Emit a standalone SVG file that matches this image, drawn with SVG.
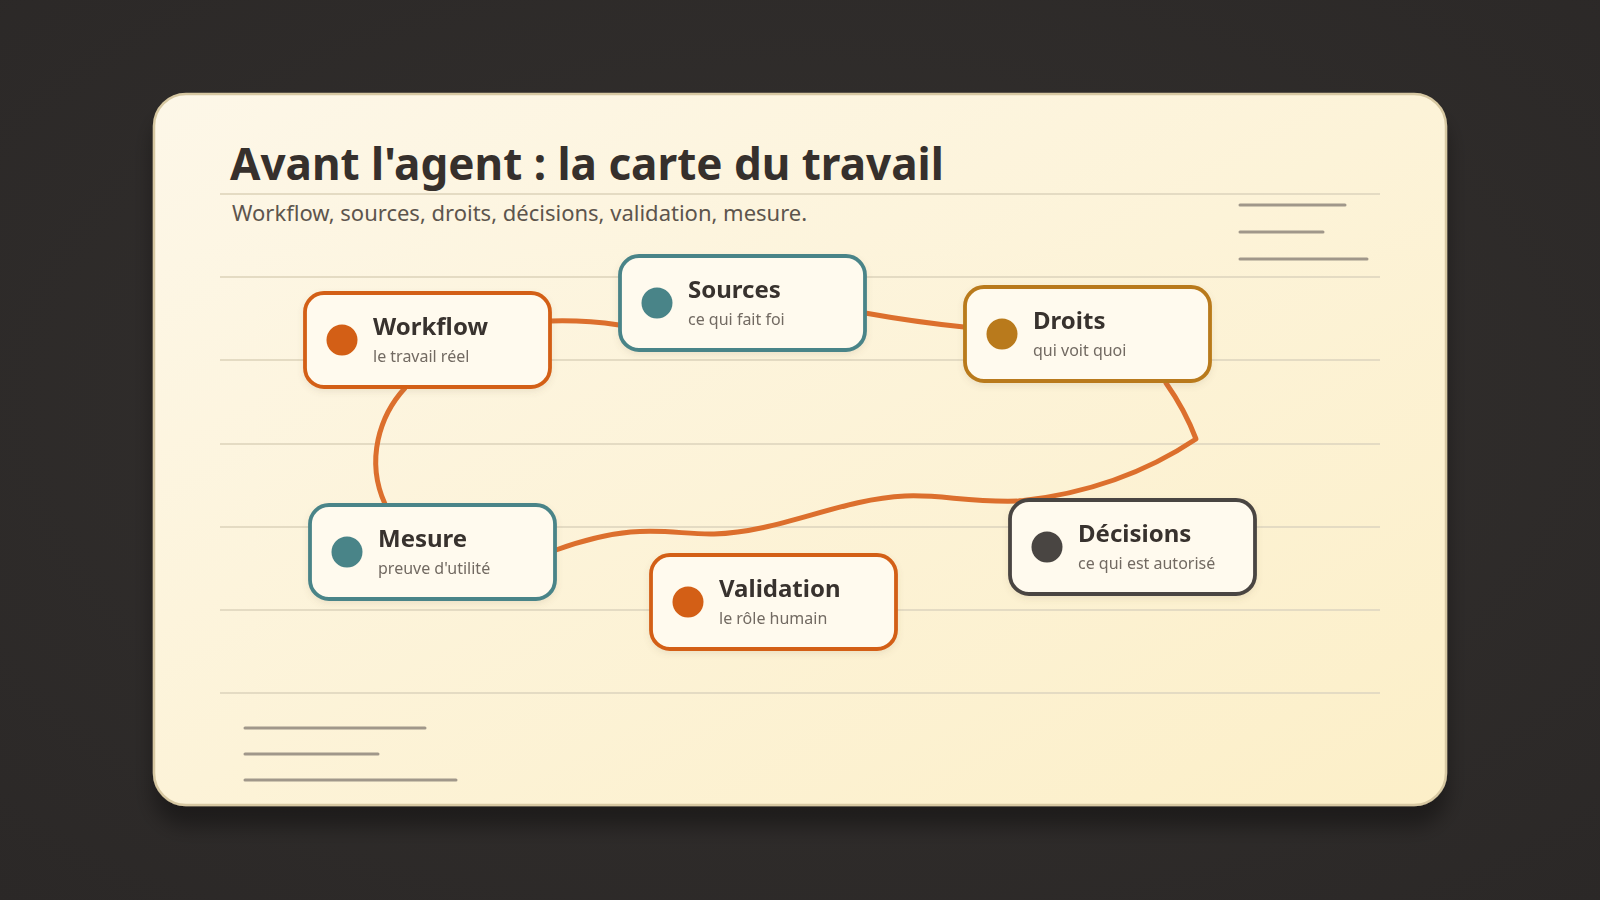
<svg xmlns="http://www.w3.org/2000/svg" width="1600" height="900" viewBox="0 0 1600 900">
  <defs>
    <radialGradient id="bg" cx="50%" cy="45%" r="75%">
      <stop offset="0" stop-color="#33302e"/>
      <stop offset="1" stop-color="#2b2827"/>
    </radialGradient>
    <linearGradient id="card" x1="0" y1="0" x2="1" y2="1">
      <stop offset="0" stop-color="#fdf7e8"/>
      <stop offset="1" stop-color="#fcefc8"/>
    </linearGradient>
    <filter id="cardShadow" x="-10%" y="-10%" width="120%" height="130%">
      <feDropShadow dx="0" dy="20" stdDeviation="10" flood-color="#000" flood-opacity="0.35"/>
    </filter>
    <filter id="nodeShadow" x="-10%" y="-10%" width="120%" height="130%">
      <feDropShadow dx="0" dy="3" stdDeviation="3" flood-color="#7a6a4a" flood-opacity="0.12"/>
    </filter>
  </defs>
  <style>
    .rule { stroke: #e4dbc3; stroke-width: 2; }
    .deco { stroke: #a0978a; stroke-width: 3; stroke-linecap: round; }
    .edge { fill: none; stroke: #dc6f2d; stroke-width: 5; stroke-linecap: round; stroke-linejoin: round; }
    .box { fill: #fffaee; stroke-width: 3.8; }
    .title { font-family: "Noto Sans", "Liberation Sans", sans-serif; font-weight: 700; font-size: 24px; fill: #38322e; }
    .sub { font-family: "Noto Sans", "Liberation Sans", sans-serif; font-size: 16px; fill: #726a62; }
  </style>
  <rect width="1600" height="900" fill="url(#bg)"/>
  <rect x="154" y="94" width="1292" height="711" rx="32" fill="url(#card)" stroke="#d7c8a2" stroke-width="2.5" filter="url(#cardShadow)"/>

  <text x="230" y="180" font-family="'Noto Sans', 'Liberation Sans', sans-serif" font-weight="700" font-size="44" fill="#36302c">Avant l'agent : la carte du travail</text>
  <text x="232" y="221" font-family="'Noto Sans', 'Liberation Sans', sans-serif" font-size="22" fill="#5d554d">Workflow, sources, droits, décisions, validation, mesure.</text>

  <g id="rules">
    <line class="rule" x1="220" y1="194" x2="1380" y2="194"/>
    <line class="rule" x1="220" y1="277" x2="1380" y2="277"/>
    <line class="rule" x1="220" y1="360" x2="1380" y2="360"/>
    <line class="rule" x1="220" y1="444" x2="1380" y2="444"/>
    <line class="rule" x1="220" y1="527" x2="1380" y2="527"/>
    <line class="rule" x1="220" y1="610" x2="1380" y2="610"/>
    <line class="rule" x1="220" y1="693" x2="1380" y2="693"/>
  </g>
  <g id="deco">
    <line class="deco" x1="1240" y1="205" x2="1345" y2="205"/>
    <line class="deco" x1="1240" y1="232" x2="1323" y2="232"/>
    <line class="deco" x1="1240" y1="259" x2="1367" y2="259"/>
    <line class="deco" x1="245" y1="728" x2="425" y2="728"/>
    <line class="deco" x1="245" y1="754" x2="378" y2="754"/>
    <line class="deco" x1="245" y1="780" x2="456" y2="780"/>
  </g>

  <g id="connectors">
    <path class="edge" d="M551,321 Q585,320 619,325"/>
    <path class="edge" d="M865,313 Q915,322 964,327"/>
    <path class="edge" d="M1166,383 Q1185,410 1196,439 Q1120,490 1020,501"/>
    <path class="edge" d="M1020,501 C970,503 940,494 905,496 C840,499 780,532 714,534 C670,535 640,520 556,550"/>
    <path class="edge" d="M405,388 C380,415 365,460 385,504"/>
  </g>

  <g id="node-workflow" transform="translate(305,293)" filter="url(#nodeShadow)">
    <rect class="box" width="245" height="94" rx="19" stroke="#d35f14"/>
    <circle cx="37" cy="47" r="15.5" fill="#d35f14"/>
    <text class="title" x="68" y="42">Workflow</text>
    <text class="sub" x="68" y="69">le travail réel</text>
  </g>
  <g id="node-sources" transform="translate(620,256)" filter="url(#nodeShadow)">
    <rect class="box" width="245" height="94" rx="19" stroke="#4a8488"/>
    <circle cx="37" cy="47" r="15.5" fill="#4a8488"/>
    <text class="title" x="68" y="42">Sources</text>
    <text class="sub" x="68" y="69">ce qui fait foi</text>
  </g>
  <g id="node-droits" transform="translate(965,287)" filter="url(#nodeShadow)">
    <rect class="box" width="245" height="94" rx="19" stroke="#b97a1a"/>
    <circle cx="37" cy="47" r="15.5" fill="#b97a1a"/>
    <text class="title" x="68" y="42">Droits</text>
    <text class="sub" x="68" y="69">qui voit quoi</text>
  </g>
  <g id="node-mesure" transform="translate(310,505)" filter="url(#nodeShadow)">
    <rect class="box" width="245" height="94" rx="19" stroke="#4a8488"/>
    <circle cx="37" cy="47" r="15.5" fill="#4a8488"/>
    <text class="title" x="68" y="42">Mesure</text>
    <text class="sub" x="68" y="69">preuve d'utilité</text>
  </g>
  <g id="node-validation" transform="translate(651,555)" filter="url(#nodeShadow)">
    <rect class="box" width="245" height="94" rx="19" stroke="#d35f14"/>
    <circle cx="37" cy="47" r="15.5" fill="#d35f14"/>
    <text class="title" x="68" y="42">Validation</text>
    <text class="sub" x="68" y="69">le rôle humain</text>
  </g>
  <g id="node-decisions" transform="translate(1010,500)" filter="url(#nodeShadow)">
    <rect class="box" width="245" height="94" rx="19" stroke="#4a4542"/>
    <circle cx="37" cy="47" r="15.5" fill="#4a4542"/>
    <text class="title" x="68" y="42">Décisions</text>
    <text class="sub" x="68" y="69">ce qui est autorisé</text>
  </g>
</svg>
